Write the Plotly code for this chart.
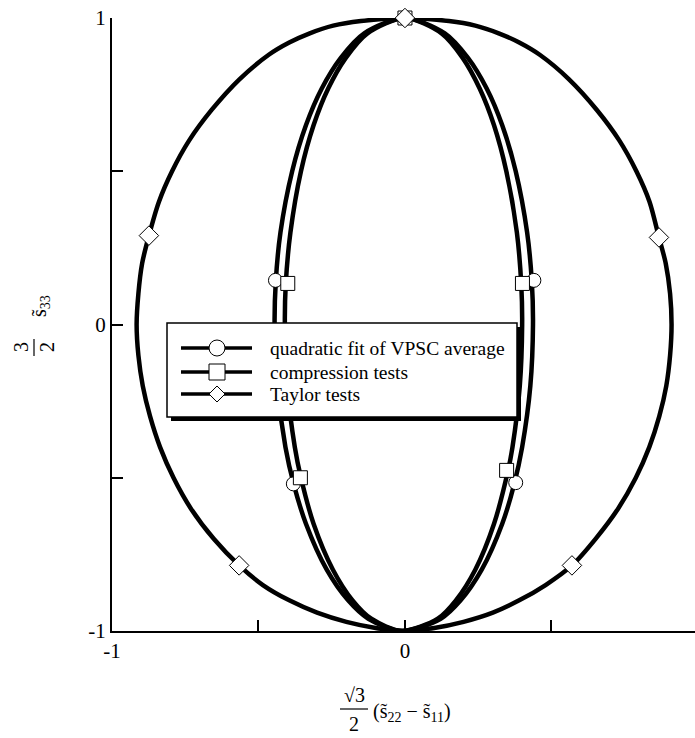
import plotly.graph_objects as go

# ---- yield-locus curves (closed, starting and ending at the top point) ----
taylor_x = [0.0, 0.15, 0.24, 0.32, 0.39, 0.46, 0.56, 0.655, 0.732, 0.79, 0.835, 0.867,
            0.89, 0.905, 0.91, 0.905, 0.892, 0.868, 0.834, 0.788, 0.728, 0.65, 0.57,
            0.48, 0.39, 0.30, 0.20, 0.10, -0.01,
            -0.10, -0.20, -0.30, -0.395, -0.485, -0.566, -0.652, -0.731, -0.79, -0.836,
            -0.87, -0.895, -0.91, -0.916, -0.91, -0.897, -0.874, -0.84, -0.795, -0.737,
            -0.66, -0.565, -0.465, -0.395, -0.325, -0.245, -0.15, 0.0]
taylor_y = [1.0, 0.99, 0.975, 0.95, 0.92, 0.88, 0.80, 0.70, 0.60, 0.50, 0.40, 0.284,
            0.20, 0.10, 0.0, -0.1, -0.2, -0.3, -0.4, -0.5, -0.6, -0.7, -0.786,
            -0.85, -0.9, -0.94, -0.97, -0.99, -1.0,
            -0.99, -0.97, -0.94, -0.9, -0.85, -0.786, -0.7, -0.6, -0.5, -0.4,
            -0.3, -0.2, -0.1, 0.0, 0.1, 0.2, 0.29, 0.4, 0.5, 0.6,
            0.7, 0.8, 0.88, 0.92, 0.95, 0.975, 0.99, 1.0]

vpsc_x = [0.0, 0.136, 0.215, 0.279, 0.332, 0.378, 0.417, 0.433, 0.437, 0.428, 0.400, 0.373,
          0.332, 0.262, 0.190, 0.122, -0.01,
          -0.125, -0.194, -0.267, -0.338, -0.380, -0.408, -0.436, -0.445, -0.441, -0.425,
          -0.385, -0.338, -0.284, -0.219, -0.139, 0.0]
vpsc_y = [1.0, 0.95, 0.87, 0.77, 0.65, 0.50, 0.30, 0.14, 0.0, -0.20, -0.40, -0.52,
          -0.65, -0.80, -0.90, -0.96, -1.0,
          -0.96, -0.90, -0.80, -0.65, -0.52, -0.40, -0.20, 0.0, 0.14, 0.30,
          0.50, 0.65, 0.77, 0.87, 0.95, 1.0]

comp_x = [0.0, 0.125, 0.197, 0.255, 0.304, 0.346, 0.382, 0.397, 0.400, 0.392, 0.367, 0.351,
          0.304, 0.240, 0.174, 0.112, -0.01,
          -0.115, -0.179, -0.246, -0.312, -0.355, -0.376, -0.402, -0.410, -0.407, -0.391,
          -0.355, -0.312, -0.262, -0.202, -0.128, 0.0]
comp_y = [1.0, 0.95, 0.87, 0.77, 0.65, 0.50, 0.30, 0.13, 0.0, -0.20, -0.40, -0.48,
          -0.65, -0.80, -0.90, -0.96, -1.0,
          -0.96, -0.90, -0.80, -0.65, -0.50, -0.40, -0.20, 0.0, 0.13, 0.30,
          0.50, 0.65, 0.77, 0.87, 0.95, 1.0]

# ---- points shown with symbols ----
vpsc_mx = [0.0, 0.44, -0.442, -0.381, 0.378]
vpsc_my = [1.0, 0.144, 0.144, -0.52, -0.516]
comp_mx = [0.0, 0.401, -0.40, -0.357, 0.347]
comp_my = [1.0, 0.134, 0.134, -0.50, -0.476]
taylor_mx = [0.0, 0.867, -0.874, -0.566, 0.57]
taylor_my = [1.0, 0.284, 0.29, -0.786, -0.786]

legend_labels = ["quadratic fit of VPSC average", "compression tests", "Taylor tests"]
tick_vals = [-1, 0, 1]
tick_text = ["-1", "0", "1"]
minor_vals = [-0.5, 0.5]

W, H = 695, 738
ML, MR, MT, MB = 112, 0, 18, 107
SERIF = "Liberation Serif, Times New Roman, serif"


def px(x):
    return (x - ML) / (W - ML - MR)


def py(y):
    return (H - MB - y) / (H - MT - MB)


fig = go.Figure()

line_style = dict(color="black", width=4.5, shape="spline", smoothing=0.8)
for cx, cy in [(taylor_x, taylor_y), (vpsc_x, vpsc_y), (comp_x, comp_y)]:
    fig.add_trace(go.Scatter(x=cx, y=cy, mode="lines", line=line_style,
                             cliponaxis=False, showlegend=False, hoverinfo="skip"))

for mx, my, sym in [(vpsc_mx, vpsc_my, "circle"), (comp_mx, comp_my, "square"),
                    (taylor_mx, taylor_my, "diamond")]:
    fig.add_trace(go.Scatter(x=mx, y=my, mode="markers", cliponaxis=False, showlegend=False,
                             marker=dict(symbol=sym, size=14 if sym != "diamond" else 15,
                                         color="white",
                                         line=dict(color="black", width=1))))

shapes = []
annotations = []

# legend box with drop shadow
bx0, by0, bx1, by1 = 167, 323, 517, 417
shapes.append(dict(type="rect", xref="paper", yref="paper",
                   x0=px(bx0 + 4), x1=px(bx1 + 4), y0=py(by0 + 4), y1=py(by1 + 4),
                   fillcolor="black", line=dict(width=0)))
shapes.append(dict(type="rect", xref="paper", yref="paper",
                   x0=px(bx0), x1=px(bx1), y0=py(by0), y1=py(by1),
                   fillcolor="white", line=dict(color="black", width=1.5)))

row_y = [348, 372, 394]
sx0, sx1, smid = 181, 252, 217
for i, label in enumerate(legend_labels):
    yy = py(row_y[i])
    shapes.append(dict(type="line", xref="paper", yref="paper",
                       x0=px(sx0), x1=px(sx1), y0=yy, y1=yy,
                       line=dict(color="black", width=3.5)))
    common = dict(xref="paper", yref="paper", xsizemode="pixel", ysizemode="pixel",
                  xanchor=px(smid), yanchor=yy, fillcolor="white",
                  line=dict(color="black", width=1))
    if i == 0:
        shapes.append(dict(type="circle", x0=-8, x1=8, y0=-8, y1=8, **common))
    elif i == 1:
        shapes.append(dict(type="rect", x0=-8, x1=8, y0=-8, y1=8, **common))
    else:
        shapes.append(dict(type="path", path="M0,8 L8,0 L0,-8 L-8,0 Z", **common))
    annotations.append(dict(xref="paper", yref="paper", x=px(268), y=yy,
                            xanchor="left", yanchor="middle", showarrow=False,
                            text=label, font=dict(family=SERIF, size=19.5, color="black")))

# x-axis title: sqrt(3)/2 (s22 - s11)
lab_font = dict(family=SERIF, size=20, color="black")
annotations.append(dict(xref="paper", yref="paper", x=px(354), y=py(695), showarrow=False,
                        xanchor="center", yanchor="middle", text="√3", font=lab_font))
shapes.append(dict(type="line", xref="paper", yref="paper", x0=px(340), x1=px(368),
                   y0=py(709), y1=py(709), line=dict(color="black", width=1.2)))
annotations.append(dict(xref="paper", yref="paper", x=px(354), y=py(724), showarrow=False,
                        xanchor="center", yanchor="middle", text="2", font=lab_font))
annotations.append(dict(xref="paper", yref="paper", x=px(371), y=py(712), showarrow=False,
                        xanchor="left", yanchor="middle",
                        text="(s\u0303<sub>22</sub> \u2212 s\u0303<sub>11</sub>)", font=lab_font))

# y-axis title: 3/2 s33 (rotated)
annotations.append(dict(xref="paper", yref="paper", x=px(21), y=py(347), showarrow=False,
                        xanchor="center", yanchor="middle", textangle=-90, text="3",
                        font=lab_font))
shapes.append(dict(type="line", xref="paper", yref="paper", x0=px(34), x1=px(34),
                   y0=py(339), y1=py(356), line=dict(color="black", width=1.2)))
annotations.append(dict(xref="paper", yref="paper", x=px(47), y=py(347), showarrow=False,
                        xanchor="center", yanchor="middle", textangle=-90, text="2",
                        font=lab_font))
annotations.append(dict(xref="paper", yref="paper", x=px(40), y=py(306), showarrow=False,
                        xanchor="center", yanchor="middle", textangle=-90,
                        text="s\u0303<sub>33</sub>", font=lab_font))

axis_common = dict(showgrid=False, zeroline=False, showline=True, linecolor="black",
                   linewidth=2, ticks="inside", ticklen=11, tickwidth=1.5, tickcolor="black",
                   tickvals=tick_vals, ticktext=tick_text,
                   minor=dict(tickvals=minor_vals, ticks="inside", ticklen=11, tickwidth=1.5,
                              tickcolor="black", showgrid=False),
                   tickfont=dict(family=SERIF, size=21, color="black"))

fig.update_layout(
    width=W, height=H,
    margin=dict(l=ML, r=MR, t=MT, b=MB),
    paper_bgcolor="white", plot_bgcolor="white",
    xaxis=dict(range=[-1, 0.99], **axis_common),
    yaxis=dict(range=[-1, 1], **axis_common),
    shapes=shapes, annotations=annotations,
    showlegend=False,
)

fig.write_html("out.html")
